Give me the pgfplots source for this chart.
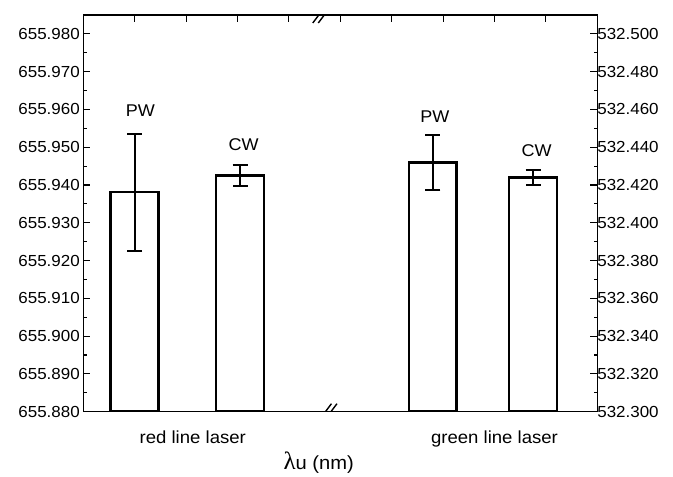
\documentclass[border=0pt]{standalone}
\usepackage{pgfplots}
\pgfplotsset{compat=1.18}
\usepackage{fontspec}
\setmainfont{Liberation Sans}[FakeStretch=1.06]
\newfontfamily\greekfont{Liberation Serif}

\pgfplotsset{
  base/.style={
    width=514pt, height=396.7pt, scale only axis,
    xmin=0, xmax=10,
    axis line style={line width=1.3pt},
    major tick length=7pt, minor tick length=3.5pt,
    every tick/.style={black, line width=1.1pt},
    /pgf/number format/.cd, fixed, fixed zerofill, precision=3, 1000 sep={},
    assume math mode=true, /pgfplots/.cd,
    tick label style={font=\fontsize{16}{19}\selectfont},
    minor y tick num=1,
  },
  bars/.style={
    ybar, bar width=0.93, fill=white, draw=black, line width=2.6pt,
    error bars/.cd, y dir=both, y explicit,
    error bar style={line width=1.8pt, black},
    error mark options={rotate=90, mark size=7.5pt, line width=1.8pt, black},
  },
}

\begin{document}
\begin{tikzpicture}
% left scale: red line laser
\begin{axis}[base,
  ymin=655.880, ymax=655.985,
  ytick={655.88,655.89,655.90,655.91,655.92,655.93,655.94,655.95,655.96,655.97,655.98},
  ytick pos=left, xtick pos=left,
  xtick=\empty, minor xtick={2,4,6,8},
  extra x ticks={2.13,8},
  extra x tick labels={red line laser, green line laser},
  extra x tick style={major tick length=0pt,
    xticklabel style={anchor=base, yshift=-31.3pt, font=\fontsize{17.5}{20}\selectfont}},
  xlabel={{\greekfont\fontsize{25}{28}\selectfont λ}u (nm)},
  xlabel style={at={(axis description cs:0.458,0)}, anchor=base, yshift=-57.5pt,
    font=\fontsize{19}{22}\selectfont},
]
\addplot[bars] coordinates {
  (1.00,655.9381) +- (0,0.0155)
  (3.05,655.9425) +- (0,0.0028)
};
\node[font=\fontsize{17}{20}\selectfont] at (axis cs:1.11,655.9597) {PW};
\node[font=\fontsize{17}{20}\selectfont] at (axis cs:3.12,655.9506) {CW};
\node[font=\fontsize{17}{20}\selectfont] at (axis cs:6.84,655.9581) {PW};
\node[font=\fontsize{17}{20}\selectfont] at (axis cs:8.82,655.9490) {CW};
% axis break marks
\draw[line width=1.4pt] ([shift={(-8.5pt,-8pt)}]axis cs:4.63,655.985) -- ++(12pt,16pt);
\draw[line width=1.4pt] ([shift={(-3pt,-8pt)}]axis cs:4.63,655.985) -- ++(12pt,16pt);
\draw[line width=1.4pt] ([shift={(-8.5pt,-8pt)}]axis cs:4.76,655.880) -- ++(12pt,16pt);
\draw[line width=1.4pt] ([shift={(-3pt,-8pt)}]axis cs:4.76,655.880) -- ++(12pt,16pt);
\end{axis}
% right scale: green line laser
\begin{axis}[base,
  ymin=532.300, ymax=532.510,
  ytick={532.30,532.32,532.34,532.36,532.38,532.40,532.42,532.44,532.46,532.48,532.50},
  ytick pos=right, yticklabel pos=right,
  yticklabel style={xshift=-3.5pt},
  xtick pos=right, xtick={1,2,3,4,5,6,7,8,9}, xticklabels={},
]
\addplot[bars] coordinates {
  (6.80,532.4320) +- (0,0.0146)
  (8.75,532.4240) +- (0,0.0039)
};
\end{axis}
\path ([xshift=-83.3pt,yshift=-62.3pt]current axis.south west)
  rectangle ([xshift=75.7pt,yshift=15pt]current axis.north east);
\end{tikzpicture}
\end{document}
